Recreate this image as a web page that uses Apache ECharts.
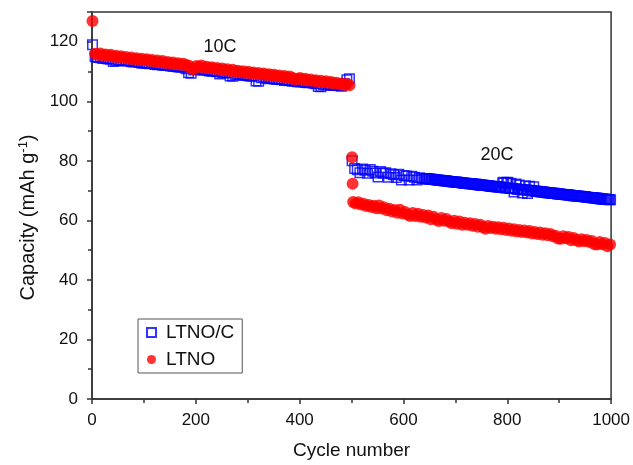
<!DOCTYPE html>
<html>
<head>
<meta charset="utf-8">
<script src="https://cdn.jsdelivr.net/npm/echarts@6/dist/echarts.min.js"></script>
<style>
  html, body { margin: 0; padding: 0; background: #fff; }
  #chart { width: 633px; height: 465px; }
</style>
</head>
<body>
<div id="chart"></div>
<script>
// Axis ticks
const xTicks = [0, 200, 400, 600, 800, 1000];
const yTicks = [0, 20, 40, 60, 80, 100, 120];
const yTop = 130;

// LTNO/C capacity, 10C stage: cycles 1, 6, 11, ... 496
const ltnoC_10C = [
  119.0, 115.0, 114.7, 114.6, 114.4, 114.5, 114.2, 114.1, 113.4, 113.5,
  113.9, 113.8, 113.6, 113.5, 113.6, 113.3, 113.2, 113.3, 113.0, 112.8,
  112.9, 112.7, 112.6, 112.7, 112.4, 112.3, 112.4, 112.1, 112.0, 112.1,
  111.9, 111.7, 111.8, 111.5, 111.4, 111.5, 110.9, 109.6, 109.4, 110.5,
  110.9, 110.8, 110.6, 110.4, 110.5, 110.2, 110.1, 110.2, 109.9, 109.2,
  109.7, 109.6, 109.5, 108.5, 108.4, 109.0, 109.1, 108.9, 108.7, 108.8,
  108.6, 108.4, 108.5, 106.8, 106.7, 107.9, 108.0, 107.8, 107.6, 107.7,
  107.5, 107.3, 107.4, 107.2, 107.0, 107.1, 106.9, 106.7, 106.8, 106.6,
  106.5, 106.6, 106.3, 106.2, 106.4, 106.1, 105.9, 105.0, 104.9, 105.6,
  105.7, 105.5, 105.4, 105.3, 105.4, 105.2, 105.1, 106.0, 107.2, 107.6
];
// LTNO/C capacity, 20C stage: cycles 501, 506, ... 636
const ltnoC_20C_early = [
  80.0, 77.4, 77.0, 76.0, 77.3, 76.8, 75.8, 77.1, 76.5, 75.9,
  74.6, 76.4, 75.8, 76.0, 74.5, 75.7, 75.3, 74.4, 75.5, 73.6,
  75.1, 74.9, 73.6, 74.8, 74.5, 73.6, 74.3, 74.1
];
// LTNO/C capacity, 20C stage: cycles 641, 643, ... 999
const ltnoC_20C_late = [
  74.1, 74.0, 74.0, 73.9, 73.9, 73.9, 73.8, 73.8, 73.7, 73.7,
  73.7, 73.6, 73.6, 73.5, 73.5, 73.5, 73.4, 73.4, 73.3, 73.3,
  73.3, 73.2, 73.2, 73.1, 73.1, 73.1, 73.0, 73.0, 72.9, 72.9,
  72.9, 72.8, 72.8, 72.7, 72.7, 72.7, 72.6, 72.6, 72.5, 72.5,
  72.5, 72.4, 72.4, 72.3, 72.3, 72.3, 72.2, 72.2, 72.1, 72.1,
  72.1, 72.0, 72.0, 71.9, 71.9, 71.9, 71.8, 71.8, 71.7, 71.7,
  71.7, 71.6, 71.6, 71.5, 71.5, 71.5, 71.4, 71.4, 71.3, 71.3,
  71.3, 71.2, 71.2, 71.1, 71.1, 72.6, 72.8, 71.0, 70.9, 72.7,
  72.8, 70.8, 70.8, 72.5, 70.7, 70.7, 69.5, 70.6, 72.2, 70.5,
  70.5, 71.9, 70.4, 70.4, 69.2, 70.3, 70.3, 71.6, 70.2, 69.0,
  70.1, 71.5, 70.0, 70.0, 69.9, 71.3, 69.9, 69.8, 69.8, 69.7,
  69.7, 69.6, 69.6, 69.5, 69.5, 69.5, 69.4, 69.4, 69.3, 69.3,
  69.3, 69.2, 69.2, 69.1, 69.1, 69.1, 69.0, 69.0, 68.9, 68.9,
  68.9, 68.8, 68.8, 68.7, 68.7, 68.7, 68.6, 68.6, 68.5, 68.5,
  68.5, 68.4, 68.4, 68.3, 68.3, 68.3, 68.2, 68.2, 68.1, 68.1,
  68.1, 68.0, 68.0, 67.9, 67.9, 67.9, 67.8, 67.8, 67.7, 67.7,
  67.7, 67.6, 67.6, 67.5, 67.5, 67.5, 67.4, 67.4, 67.3, 67.3,
  67.3, 67.2, 67.2, 67.1, 67.1, 67.1, 67.0, 67.0, 66.9, 66.9
];

// LTNO capacity, 10C stage: cycles 1, 6, 11, ... 496
const ltno_10C = [
  127.0, 116.0, 115.6, 116.1, 115.4, 115.7, 115.3, 115.6, 115.0, 115.3,
  114.8, 115.1, 114.6, 114.9, 114.3, 114.7, 114.1, 114.5, 114.0, 114.3,
  113.8, 114.1, 113.6, 113.9, 113.3, 113.7, 113.1, 113.5, 112.9, 113.2,
  112.7, 113.0, 112.5, 112.8, 112.3, 112.6, 112.1, 112.0, 111.0, 110.8,
  111.9, 111.6, 112.0, 111.3, 111.6, 111.1, 111.4, 110.9, 111.2, 110.7,
  111.0, 110.4, 110.8, 110.2, 110.6, 110.0, 110.3, 109.8, 110.1, 109.6,
  109.9, 109.4, 109.7, 109.2, 109.5, 109.0, 109.3, 108.8, 109.1, 108.7,
  108.9, 108.4, 108.7, 108.2, 108.5, 108.0, 108.3, 107.8, 107.3, 107.6,
  107.8, 107.3, 107.6, 107.0, 107.3, 106.8, 107.1, 106.6, 106.9, 106.4,
  106.7, 106.2, 106.5, 106.0, 106.2, 105.7, 106.0, 105.5, 105.8, 105.4
];
// LTNO first cycles after switching to 20C
const ltno_jumpCycles = [501, 502];
const ltno_jumpValues = [81.2, 72.3];
// LTNO capacity, 20C stage: cycles 503, 508, ... 998
const ltno_20C = [
  66.2, 65.7, 66.1, 65.3, 65.6, 64.8, 65.2, 64.5, 64.9, 64.1,
  65.0, 64.0, 64.3, 63.4, 63.9, 63.0, 63.5, 62.6, 63.6, 62.3,
  62.8, 62.0, 61.5, 62.5, 61.5, 62.2, 61.2, 61.8, 61.0, 61.6,
  60.4, 61.2, 60.4, 59.8, 60.8, 59.9, 60.5, 59.6, 59.0, 59.9,
  58.9, 59.6, 58.5, 59.2, 58.5, 59.0, 58.2, 58.8, 57.9, 58.5,
  57.8, 57.2, 58.1, 57.4, 57.9, 57.2, 57.7, 57.0, 57.5, 56.8,
  57.3, 56.5, 57.0, 56.3, 56.8, 56.1, 56.6, 55.9, 56.4, 55.6,
  56.1, 55.4, 55.9, 55.2, 55.7, 55.0, 55.4, 54.7, 54.8, 53.9,
  53.8, 54.7, 54.0, 54.4, 53.3, 54.1, 53.4, 52.9, 53.7, 53.0,
  53.4, 52.7, 53.1, 52.0, 51.9, 52.7, 52.0, 52.4, 51.3, 51.9
];

// pair a run of capacities with their cycle numbers
function withCycles(firstCycle, step, values) {
  return values.map((v, i) => [firstCycle + i * step, v]);
}

const ltnoCData = withCycles(1, 5, ltnoC_10C)
  .concat(withCycles(501, 5, ltnoC_20C_early))
  .concat(withCycles(641, 2, ltnoC_20C_late));
const ltnoData = withCycles(1, 5, ltno_10C)
  .concat(ltno_jumpCycles.map((c, i) => [c, ltno_jumpValues[i]]))
  .concat(withCycles(503, 5, ltno_20C));

const FONT = 'Arial, "Liberation Sans", sans-serif';
const INK = '#111';
const AXIS = '#333';

const chart = echarts.init(document.getElementById('chart'), null, { renderer: 'canvas' });
chart.setOption({
  animation: false,
  backgroundColor: '#fff',
  grid: {
    left: 92, right: 21, top: 12, bottom: 66,
    show: true, borderColor: AXIS, borderWidth: 1.5, backgroundColor: 'transparent'
  },
  legend: {
    orient: 'vertical',
    left: 138, top: 319,
    padding: [4, 8, 4, 8],
    itemGap: 8,
    itemWidth: 9, itemHeight: 9,
    borderColor: '#555', borderWidth: 1,
    textStyle: { fontSize: 19, fontFamily: FONT, color: INK, padding: [0, 0, 0, 5] },
    data: ['LTNO/C', 'LTNO']
  },
  xAxis: {
    type: 'value',
    min: xTicks[0], max: xTicks[xTicks.length - 1], interval: xTicks[1] - xTicks[0],
    name: 'Cycle number',
    nameLocation: 'middle',
    nameGap: 42,
    nameTextStyle: { fontSize: 19, fontFamily: FONT, color: INK },
    axisLine: { show: true, lineStyle: { color: AXIS, width: 1.5 } },
    axisTick: { show: true, inside: false, length: 5, lineStyle: { color: AXIS, width: 1.5 } },
    minorTick: { show: true, splitNumber: 2, length: 4, lineStyle: { color: AXIS, width: 1.5 } },
    axisLabel: { fontSize: 17, fontFamily: FONT, color: INK, margin: 13, formatter: v => String(v) },
    splitLine: { show: false }
  },
  yAxis: {
    type: 'value',
    min: yTicks[0], max: yTop, interval: yTicks[1] - yTicks[0],
    name: 'Capacity (mAh g{sup|-1})',
    nameLocation: 'middle',
    nameGap: 50,
    nameTextStyle: {
      fontSize: 20, fontFamily: FONT, color: INK, padding: [0, 24, 0, 0],
      rich: { sup: { fontSize: 13, fontFamily: FONT, color: INK, padding: [0, 0, 10, 0] } }
    },
    axisLine: { show: true, lineStyle: { color: AXIS, width: 1.5 } },
    axisTick: { show: true, inside: false, length: 5, lineStyle: { color: AXIS, width: 1.5 } },
    minorTick: { show: true, splitNumber: 2, length: 4, lineStyle: { color: AXIS, width: 1.5 } },
    axisLabel: { fontSize: 17, fontFamily: FONT, color: INK, margin: 14, showMaxLabel: false,
      formatter: v => (yTicks.indexOf(v) >= 0 ? String(v) : '') },
    splitLine: { show: false }
  },
  graphic: [
    { type: 'text', x: 220, y: 47, style: { text: '10C', align: 'center', verticalAlign: 'middle', fontSize: 18, fontFamily: FONT, fill: INK } },
    { type: 'text', x: 497, y: 155, style: { text: '20C', align: 'center', verticalAlign: 'middle', fontSize: 18, fontFamily: FONT, fill: INK } }
  ],
  series: [
    {
      name: 'LTNO/C',
      type: 'scatter',
      data: ltnoCData,
      symbol: 'rect',
      symbolSize: 9.5,
      itemStyle: { color: 'rgba(0,0,0,0)', borderColor: '#0000ff', borderWidth: 1.5 },
      emphasis: { disabled: true },
      silent: true
    },
    {
      name: 'LTNO',
      type: 'scatter',
      data: ltnoData,
      symbol: 'circle',
      symbolSize: 12,
      itemStyle: { color: '#ff0000' },
      emphasis: { disabled: true },
      silent: true
    }
  ]
});
</script>
</body>
</html>
